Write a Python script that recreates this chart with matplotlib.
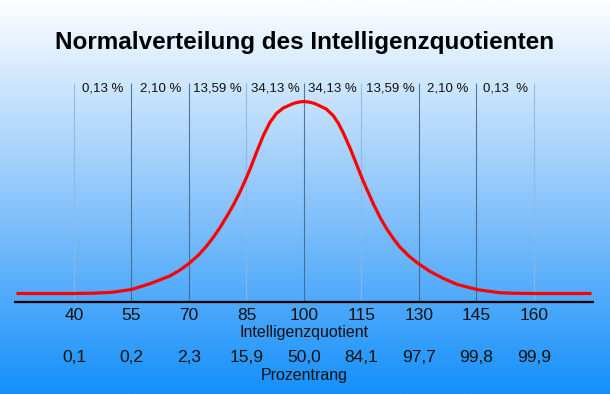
import numpy as np
import matplotlib
matplotlib.use("Agg")
import matplotlib.pyplot as plt
from matplotlib.colors import LinearSegmentedColormap

plt.rcParams['font.family'] = ['Liberation Sans', 'DejaVu Sans']

# curve (IQ, relative height above the baseline)
iq = [25, 40, 45, 50, 55, 60, 65, 67.5, 70, 72.5, 74.6, 76.5, 78.1, 80, 81.5, 83.3,
      85, 86, 87.7, 89.4, 91.1, 92.8, 94.6, 97.2, 98.6, 100, 101.4, 102.8, 105.8, 107.6,
      109, 110.2, 111.9, 112.9, 114.5, 115.5, 118.1, 120, 121.6, 123.3, 125,
      127.5, 129.8, 132.9, 136.4, 140, 145.3, 151, 155, 160, 175]
height = [0, 0, 0.3, 1.2, 4, 10, 17.5, 23, 30, 38.5, 47.5, 57, 66, 78, 88, 101.5,
          116, 125, 142, 158, 171, 180, 185.5, 190, 191.4, 192, 191.4, 190, 184.5, 178,
          170, 161, 146.5, 137, 121.5, 112, 89.5, 75, 64.5, 55, 46.5,
          37, 30, 22, 15, 9, 3.8, 0.8, 0.2, 0, 0]

ticks = [40, 55, 70, 85, 100, 115, 130, 145, 160]
dark_lines = [55, 70, 100, 130, 145]
percentile = ['0,1', '0,2', '2,3', '15,9', '50,0', '84,1', '97,7', '99,8', '99,9']
shares = ['0,13 %', '2,10 %', '13,59 %', '34,13 %', '34,13 %', '13,59 %', '2,10 %', '0,13  %']

fig = plt.figure(figsize=(6.1, 3.94), dpi=100)

# background gradient
bg = fig.add_axes([0, 0, 1, 1])
cmap = LinearSegmentedColormap.from_list('bg', [(0, '#fdfeff'), (0.5, '#8ec6fb'), (1, '#1590fa')])
grad = np.linspace(0, 1, 256).reshape(-1, 1)
bg.imshow(grad, aspect='auto', cmap=cmap, extent=[0, 1, 0, 1], origin='upper')
bg.axis('off')

ax = fig.add_axes([0, 0, 1, 1])
ax.patch.set_alpha(0)
ax.axis('off')
ax.set_xlim(20.7, 179.83)
ax.set_ylim(-100.5, 293.5)

# vertical separators
for t in ticks:
    if t in dark_lines:
        ax.vlines(t, -8.5, 210.5, color='#3f6486', lw=0.8, alpha=0.85, zorder=1)
    else:
        ax.vlines(t, -8.5, 210.5, color='#8fb8e0', lw=0.8, alpha=0.9, zorder=1)

# axis line
ax.hlines(-8.5, iq[0] - 0.6, iq[-1] + 0.6, color='black', lw=1.6, zorder=2)

# curve
ax.plot(iq, height, color='#ff0000', lw=2.3, solid_joinstyle='round',
        solid_capstyle='butt', zorder=3)

# share labels between lines
for i, s in enumerate(shares):
    xm = (ticks[i] + ticks[i + 1]) / 2
    ax.text(xm, 205.5, s, ha='center', va='center', fontsize=9.5, color='#111111')

for t, p in zip(ticks, percentile):
    ax.text(t, -21.5, str(t), ha='center', va='center', fontsize=12.5, color='#111111')
    ax.text(t, -64.5, p, ha='center', va='center', fontsize=12.5, color='#111111')

ax.text(100, -38.5, 'Intelligenzquotient', ha='center', va='center', fontsize=11.5, color='#111111')
ax.text(100, -82, 'Prozentrang', ha='center', va='center', fontsize=11.5, color='#111111')

fig.text(0.5, 1 - 42 / 394, 'Normalverteilung des Intelligenzquotienten',
         ha='center', va='center', fontsize=17.5, fontweight='bold', color='black')

fig.savefig('out.png', dpi=100)
